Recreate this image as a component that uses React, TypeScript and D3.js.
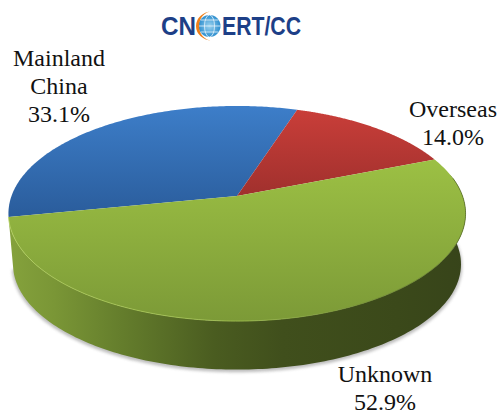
import React from "react";
import * as d3 from "d3";

const categories = ["Mainland China", "Overseas", "Unknown"];
const shares = [33.1, 14.0, 52.9];
const topColors = ["#3d7ec9", "#c93e39", "#9cc044"];
const bottomColors = ["#2a5c9b", "#a0302d", "#7c9a37"];
const labelLines = [["Mainland", "China", "33.1%"], ["Overseas", "14.0%"], ["Unknown", "52.9%"]];
const labelAnchors = [[59, 66], [453, 117], [385, 382]];
const sideStops: [number, string][] = [[0, "#85a23c"], [0.1, "#7a9636"], [0.25, "#647d2c"], [0.45, "#4a5c20"], [0.6, "#404f1c"], [0.85, "#3b491a"], [1, "#37441a"]];

const cx = 237, cy = 196, a = 104.7, b = 225.5, k = 0.163, depth = 51;
const startDeg = -101.2;

const project = (t: number, dy = 0, sc = 1): [number, number] => {
  const x = Math.sin(t), y = -Math.cos(t);
  const w = 1 - k * y;
  return [cx + (sc * b * x) / w, cy + dy + (sc * a * y) / w];
};

const pie = d3.pie<number>().sort(null).startAngle((startDeg * Math.PI) / 180).endAngle(((startDeg + 360) * Math.PI) / 180);
const arcs = pie(shares);
const line = d3.line();

const samples = (s: number, e: number, n = 180) => d3.range(n + 1).map((i) => s + ((e - s) * i) / n);

const slicePath = (s: number, e: number) => line([[cx, cy], ...samples(s, e).map((t) => project(t))])! + "Z";

// visible rim: from the rightmost to the leftmost point of the outline, through the front
const rimAngles = samples((78 * Math.PI) / 180, (258.8 * Math.PI) / 180);
const sidePath = line([...rimAngles.map((t) => project(t)), ...rimAngles.slice().reverse().map((t) => project(t, depth, 0.98))])! + "Z";
const shadowPath = line(rimAngles.map((t) => project(t, depth + 2, 0.985)).concat(project(rimAngles[0], 0)))! + "Z";

const sf = { fontFamily: "'Liberation Serif', 'Times New Roman', serif", fontSize: 24, fill: "#111" };

export default function App() {
  return (
    <svg width={500} height={415} style={{ position: "absolute", left: 0, top: 0, background: "#fff" }}>
      <defs>
        {arcs.map((_, i) => (
          <linearGradient key={i} id={`g${i}`} x1="0" y1="0" x2="0" y2="1">
            <stop offset="0" stopColor={topColors[i]} />
            <stop offset="1" stopColor={bottomColors[i]} />
          </linearGradient>
        ))}
        <linearGradient id="rim" x1="0" y1="0" x2="1" y2="0">
          <stop offset="0" stopColor="#b2d05c" />
          <stop offset="0.5" stopColor="#a4c452" />
          <stop offset="0.8" stopColor="#6f8a30" />
          <stop offset="1" stopColor="#5a7028" />
        </linearGradient>
        <linearGradient id="side" x1="0" y1="0" x2="1" y2="0">
          {sideStops.map(([o, c]) => <stop key={o} offset={o} stopColor={c} />)}
        </linearGradient>
        <filter id="blur" x="-5%" y="-5%" width="110%" height="110%"><feGaussianBlur stdDeviation="1.5" /></filter>
        <radialGradient id="globe" cx="0.5" cy="0.5" r="0.5">
          <stop offset="0" stopColor="#9ad2ef" />
          <stop offset="1" stopColor="#2f8fcf" />
        </radialGradient>
      </defs>

      <path d={shadowPath} fill="#888" opacity={0.55} filter="url(#blur)" />
      <path d={sidePath} fill="url(#side)" />
      {arcs.map((d, i) => (
        <path key={categories[i]} d={slicePath(d.startAngle, d.endAngle)} fill={`url(#g${i})`} />
      ))}
      <path d={line(samples((80 * Math.PI) / 180, arcs[2].endAngle).map((t) => project(t)))!} fill="none" stroke="url(#rim)" strokeWidth={1} opacity={0.8} />

      {labelLines.map((ls, i) => (
        <text key={i} textAnchor="middle" {...sf}>
          {ls.map((l, j) => <tspan key={j} x={labelAnchors[i][0]} y={labelAnchors[i][1] + j * 28}>{l}</tspan>)}
        </text>
      ))}

      <g fontFamily="'Liberation Sans', Arial, sans-serif" fontWeight={700} fontSize={25} fill="#1d3f87">
        <text x={161} y={34.5} textLength={35} lengthAdjust="spacingAndGlyphs">CN</text>
        <text x={222} y={34.5} textLength={79} lengthAdjust="spacingAndGlyphs">ERT/CC</text>
      </g>
      <circle cx={209.5} cy={26} r={11} fill="url(#globe)" />
      <g fill="none" stroke="#e8f4fb" strokeWidth={0.8}>
        <ellipse cx={209.5} cy={26} rx={5} ry={11} />
        <path d="M198.5 26H220.5M200.5 20H218.500M200.5 32H218.5" />
      </g>
      <path d="M212 11.500A16 14.500 0 1 0 212 40.500A13 14.500 0 1 1 212 11.500Z" fill="#ee7f1a" />
    </svg>
  );
}
